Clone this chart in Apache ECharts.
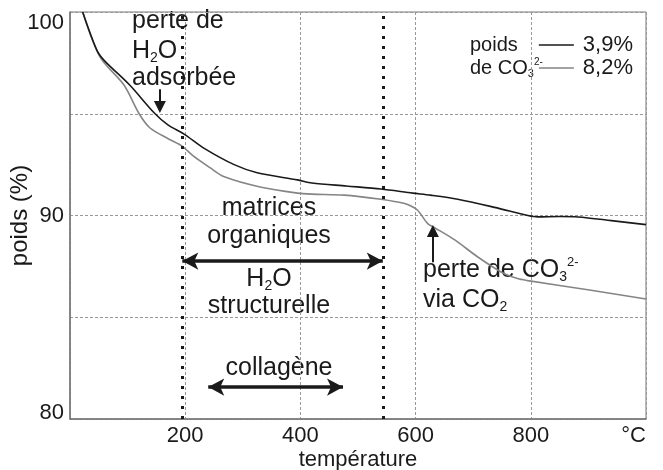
<!DOCTYPE html>
<html>
<head>
<meta charset="utf-8">
<script src="https://cdn.jsdelivr.net/npm/echarts@6/dist/echarts.min.js"></script>
<style>
  html, body { margin: 0; padding: 0; background: #fff; }
  #chart { width: 663px; height: 470px; }
</style>
</head>
<body>
<div id="chart"></div>
<script>
// courbe noire (3,9 % de CO3 2-)
const temps39 = [22, 47, 60, 104, 146, 170, 198, 233, 285, 325, 395, 420, 480, 540, 595, 626, 673, 737, 795, 812, 850, 882, 940, 1000]
const poids39 = [100.0, 98.1, 97.6, 96.4, 95.05, 94.45, 94.0, 93.3, 92.5, 92.1, 91.75, 91.6, 91.45, 91.3, 91.1, 91.0, 90.8, 90.4, 90.0, 89.93, 89.95, 89.93, 89.75, 89.55]

// courbe grise (8,2 % de CO3 2-)
const temps82 = [22, 52, 94, 120, 139, 172, 195, 215, 243, 268, 330, 395, 420, 476, 540, 569, 585, 603, 621, 633, 668, 708, 750, 777, 795, 899, 1000]
const poids82 = [100.0, 97.8, 96.4, 95.0, 94.3, 93.75, 93.4, 92.9, 92.35, 91.9, 91.4, 91.1, 91.05, 91.0, 90.8, 90.66, 90.55, 90.27, 89.6, 89.4, 88.8, 87.96, 87.2, 86.9, 86.8, 86.35, 85.9]

const seriesNames = ['3,9%', '8,2%']
const xTicks = [200, 400, 600, 800, 1000]
const yTickLabels = [80, 90, 100]

// repères (°C / % poids)
const limites = [195, 543]             // pointillés verticaux
const matricesRange = [195, 543]       // flèche double "matrices organiques"
const matricesLevel = 87.76
const collageneRange = [240, 474]
const collageneLevel = 81.57
const adsorbeeArrow = [[156, 96.2], [156, 95.33]]
const co2Arrow = [[630, 87.7], [630, 89.24]]

const FONT = '"Liberation Sans", Arial, Helvetica, sans-serif'
const INK = '#1a1a1a'

const chart = echarts.init(document.getElementById('chart'))

const rich = (size) => ({
  sub: { fontSize: Math.round(size * 0.56), fontFamily: FONT, fill: INK, verticalAlign: 'bottom', lineHeight: Math.round(size * 0.56) },
  sup: { fontSize: Math.round(size * 0.5), fontFamily: FONT, fill: INK, verticalAlign: 'top', lineHeight: Math.round(size * 0.5) }
})

function label(text, x, y, align, size) {
  size = size || 25
  return {
    type: 'text',
    x: x,
    y: y,
    silent: true,
    style: {
      text: text,
      fontSize: size,
      fontFamily: FONT,
      fill: INK,
      lineHeight: Math.round(size * 1.12),
      align: align,
      verticalAlign: 'middle',
      rich: rich(size)
    }
  }
}

const arrowLine = (from, to, symbols, width, size) => [
  { coord: from, symbol: symbols[0], symbolSize: size },
  { coord: to, symbol: symbols[1], symbolSize: size, lineStyle: { width: width, color: INK, type: 'solid' } }
]

chart.setOption({
  animation: false,
  grid: {
    left: 70, right: 17, top: 12, bottom: 51,
    outerBoundsMode: 'none',
    containLabel: false,
    show: true, borderColor: '#777', borderWidth: 1
  },
  legend: {
    data: seriesNames,
    orient: 'vertical',
    right: 30,
    top: 34,
    padding: 0,
    itemGap: 1,
    icon: 'rect',
    itemWidth: 35,
    itemHeight: 1.5,
    selectedMode: false,
    textStyle: { fontSize: 22, fontFamily: FONT, color: INK, padding: [0, 0, 0, 4] }
  },
  xAxis: {
    type: 'value',
    min: 0,
    max: 1000,
    interval: 200,
    name: 'température',
    nameLocation: 'middle',
    nameGap: 30,
    nameMoveOverlap: false,
    nameTextStyle: { fontSize: 22, fontFamily: FONT, color: INK },
    axisLine: { lineStyle: { color: '#777', width: 1.5 } },
    axisTick: { show: false },
    axisLabel: {
      fontSize: 22, fontFamily: FONT, color: INK, margin: 6,
      showMinLabel: false,
      alignMaxLabel: 'right',
      formatter: v => xTicks.includes(v) ? (v === 1000 ? '°C' : String(v)) : ''
    },
    splitLine: { show: true, lineStyle: { color: '#999', type: [3, 2], width: 1 } }
  },
  yAxis: {
    type: 'value',
    min: 80,
    max: 100,
    interval: 5,
    name: 'poids (%)',
    nameLocation: 'middle',
    nameGap: 38,
    nameMoveOverlap: false,
    nameTextStyle: { fontSize: 24, fontFamily: FONT, color: INK },
    axisLine: { show: true, lineStyle: { color: '#777', width: 1.5 } },
    axisTick: { show: false },
    axisLabel: {
      fontSize: 22, fontFamily: FONT, color: INK, margin: 6,
      verticalAlignMaxLabel: 'top',
      verticalAlignMinLabel: 'bottom',
      formatter: v => yTickLabels.includes(v) ? (v === 80 ? '{lo|80}' : String(v)) : '',
      rich: { lo: { fontSize: 22, fontFamily: FONT, color: INK, lineHeight: 12 } }
    },
    splitLine: { show: true, lineStyle: { color: '#999', type: [3, 2], width: 1 } }
  },
  series: [
    {
      name: seriesNames[0],
      type: 'line',
      data: temps39.map((t, i) => [t, poids39[i]]),
      showSymbol: false,
      smooth: 0.3,
      lineStyle: { color: INK, width: 1.6 },
      itemStyle: { color: INK },
      z: 4
    },
    {
      name: seriesNames[1],
      type: 'line',
      data: temps82.map((t, i) => [t, poids82[i]]),
      showSymbol: false,
      smooth: 0.3,
      lineStyle: { color: '#858585', width: 1.6 },
      itemStyle: { color: '#858585' },
      z: 3
    },
    {
      name: 'annotations',
      type: 'line',
      data: [],
      silent: true,
      markLine: {
        silent: true,
        animation: false,
        symbol: ['none', 'none'],
        label: { show: false },
        emphasis: { disabled: true },
        data: [
          { xAxis: limites[0], lineStyle: { color: INK, width: 3, type: [3, 7] } },
          { xAxis: limites[1], lineStyle: { color: INK, width: 3, type: [3, 7] } },
          arrowLine([matricesRange[0], matricesLevel], [matricesRange[1], matricesLevel], ['arrow', 'arrow'], 3.5, [13, 16]),
          arrowLine([collageneRange[0], collageneLevel], [collageneRange[1], collageneLevel], ['arrow', 'arrow'], 3.5, [13, 16]),
          arrowLine(adsorbeeArrow[0], adsorbeeArrow[1], ['none', 'triangle'], 2, [12, 12]),
          arrowLine(co2Arrow[0], co2Arrow[1], ['none', 'triangle'], 2, [12, 12])
        ]
      }
    }
  ],
  graphic: [
    label('perte de', 132, 21, 'left'),
    label('H{sub|2}O', 132, 51, 'left'),
    label('adsorbée', 132, 78, 'left'),
    label('matrices', 269, 208, 'center'),
    label('organiques', 269, 236, 'center'),
    label('H{sub|2}O', 269, 279, 'center'),
    label('structurelle', 269, 306, 'center'),
    label('collagène', 279, 368, 'center'),
    label('perte de CO{sub|3}{sup|2-}', 423, 270, 'left'),
    label('via CO{sub|2}', 423, 300, 'left'),
    label('poids', 470, 45, 'left', 20),
    label('de CO{sub|3}{sup|2-}', 470, 68, 'left', 20)
  ]
})
</script>
</body>
</html>
